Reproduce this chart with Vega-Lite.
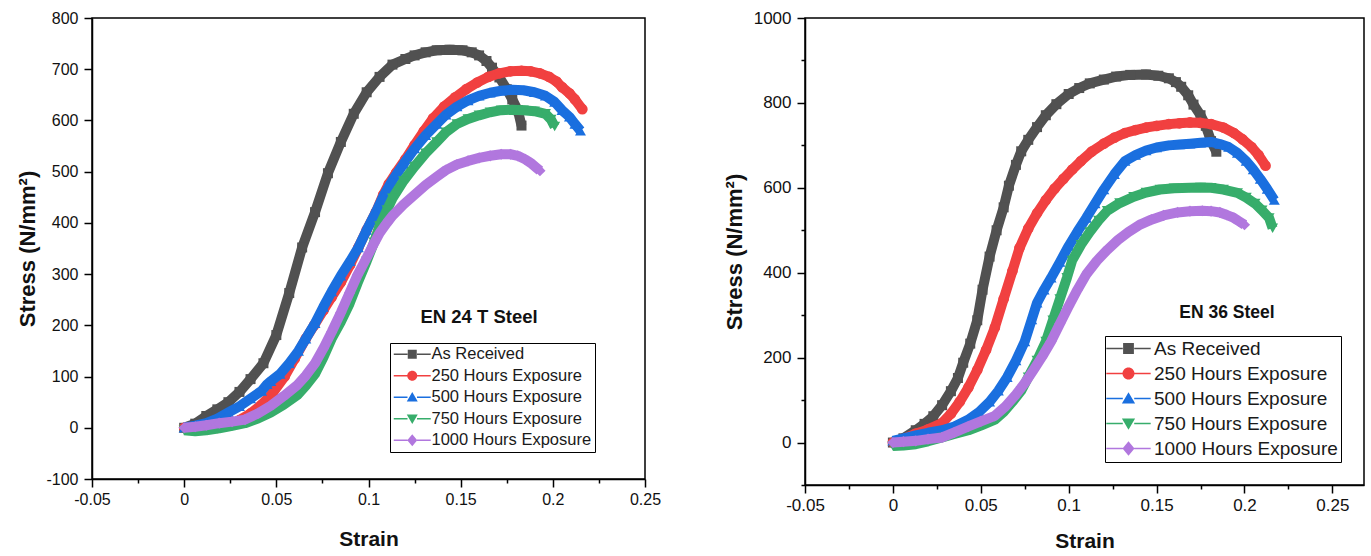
{
  "$schema": "https://vega.github.io/schema/vega-lite/v6.json",
  "padding": {"left": 16, "top": 8, "right": 5, "bottom": 0},
  "background": "white",
  "config": {
    "font": "Liberation Sans",
    "view": {"stroke": "black", "strokeWidth": 1.5},
    "axis": {"domainColor": "black", "domainWidth": 1.5, "tickColor": "black", "tickWidth": 1.5, "labelColor": "#111", "titleColor": "#111", "labelFont": "Liberation Sans", "titleFont": "Liberation Sans", "grid": false, "labelFontSize": 16, "titleFontSize": 21, "titleFontWeight": "bold", "labelOverlap": false, "labelFlush": false, "labelBound": false}
  },
  "datasets": {
    "en24": [
      {"series":"As Received","strain":0,"stress":0},{"series":"As Received","strain":0.006,"stress":8},{"series":"As Received","strain":0.012,"stress":23},{"series":"As Received","strain":0.018,"stress":36},{"series":"As Received","strain":0.024,"stress":50},{"series":"As Received","strain":0.03,"stress":70},{"series":"As Received","strain":0.036,"stress":95},{"series":"As Received","strain":0.043,"stress":126},{"series":"As Received","strain":0.05,"stress":181},{"series":"As Received","strain":0.057,"stress":263},{"series":"As Received","strain":0.064,"stress":352},{"series":"As Received","strain":0.071,"stress":421},{"series":"As Received","strain":0.078,"stress":497},{"series":"As Received","strain":0.085,"stress":558},{"series":"As Received","strain":0.092,"stress":613},{"series":"As Received","strain":0.099,"stress":655},{"series":"As Received","strain":0.106,"stress":685},{"series":"As Received","strain":0.113,"stress":709},{"series":"As Received","strain":0.12,"stress":720},{"series":"As Received","strain":0.125,"stress":727},{"series":"As Received","strain":0.131,"stress":733},{"series":"As Received","strain":0.137,"stress":737},{"series":"As Received","strain":0.144,"stress":738},{"series":"As Received","strain":0.151,"stress":737},{"series":"As Received","strain":0.156,"stress":733},{"series":"As Received","strain":0.16,"stress":727},{"series":"As Received","strain":0.164,"stress":716},{"series":"As Received","strain":0.167,"stress":703},{"series":"As Received","strain":0.171,"stress":684},{"series":"As Received","strain":0.175,"stress":661},{"series":"As Received","strain":0.178,"stress":641},{"series":"As Received","strain":0.181,"stress":620},{"series":"As Received","strain":0.183,"stress":590},
      {"series":"250 Hours Exposure","strain":0,"stress":0},{"series":"250 Hours Exposure","strain":0.006,"stress":-3},{"series":"250 Hours Exposure","strain":0.012,"stress":-3},{"series":"250 Hours Exposure","strain":0.018,"stress":0},{"series":"250 Hours Exposure","strain":0.025,"stress":5},{"series":"250 Hours Exposure","strain":0.03,"stress":15},{"series":"250 Hours Exposure","strain":0.036,"stress":28},{"series":"250 Hours Exposure","strain":0.042,"stress":45},{"series":"250 Hours Exposure","strain":0.048,"stress":68},{"series":"250 Hours Exposure","strain":0.0545,"stress":100},{"series":"250 Hours Exposure","strain":0.06,"stress":135},{"series":"250 Hours Exposure","strain":0.066,"stress":174},{"series":"250 Hours Exposure","strain":0.0705,"stress":200},{"series":"250 Hours Exposure","strain":0.0755,"stress":229},{"series":"250 Hours Exposure","strain":0.08,"stress":255},{"series":"250 Hours Exposure","strain":0.085,"stress":284},{"series":"250 Hours Exposure","strain":0.09,"stress":318},{"series":"250 Hours Exposure","strain":0.0945,"stress":352},{"series":"250 Hours Exposure","strain":0.099,"stress":386},{"series":"250 Hours Exposure","strain":0.104,"stress":421},{"series":"250 Hours Exposure","strain":0.108,"stress":455},{"series":"250 Hours Exposure","strain":0.111,"stress":476},{"series":"250 Hours Exposure","strain":0.115,"stress":498},{"series":"250 Hours Exposure","strain":0.12,"stress":524},{"series":"250 Hours Exposure","strain":0.125,"stress":552},{"series":"250 Hours Exposure","strain":0.13,"stress":579},{"series":"250 Hours Exposure","strain":0.135,"stress":604},{"series":"250 Hours Exposure","strain":0.141,"stress":627},{"series":"250 Hours Exposure","strain":0.147,"stress":645},{"series":"250 Hours Exposure","strain":0.153,"stress":661},{"series":"250 Hours Exposure","strain":0.159,"stress":674},{"series":"250 Hours Exposure","strain":0.165,"stress":685},{"series":"250 Hours Exposure","strain":0.171,"stress":692},{"series":"250 Hours Exposure","strain":0.177,"stress":696},{"series":"250 Hours Exposure","strain":0.183,"stress":697},{"series":"250 Hours Exposure","strain":0.188,"stress":696},{"series":"250 Hours Exposure","strain":0.193,"stress":692},{"series":"250 Hours Exposure","strain":0.198,"stress":685},{"series":"250 Hours Exposure","strain":0.202,"stress":676},{"series":"250 Hours Exposure","strain":0.205,"stress":665},{"series":"250 Hours Exposure","strain":0.209,"stress":653},{"series":"250 Hours Exposure","strain":0.212,"stress":641},{"series":"250 Hours Exposure","strain":0.216,"stress":622},
      {"series":"500 Hours Exposure","strain":0,"stress":0},{"series":"500 Hours Exposure","strain":0.006,"stress":4},{"series":"500 Hours Exposure","strain":0.012,"stress":9},{"series":"500 Hours Exposure","strain":0.018,"stress":18},{"series":"500 Hours Exposure","strain":0.024,"stress":30},{"series":"500 Hours Exposure","strain":0.03,"stress":42},{"series":"500 Hours Exposure","strain":0.036,"stress":57},{"series":"500 Hours Exposure","strain":0.042,"stress":72},{"series":"500 Hours Exposure","strain":0.045,"stress":85},{"series":"500 Hours Exposure","strain":0.047,"stress":91},{"series":"500 Hours Exposure","strain":0.052,"stress":105},{"series":"500 Hours Exposure","strain":0.057,"stress":126},{"series":"500 Hours Exposure","strain":0.062,"stress":150},{"series":"500 Hours Exposure","strain":0.066,"stress":174},{"series":"500 Hours Exposure","strain":0.071,"stress":204},{"series":"500 Hours Exposure","strain":0.0755,"stress":236},{"series":"500 Hours Exposure","strain":0.08,"stress":266},{"series":"500 Hours Exposure","strain":0.085,"stress":297},{"series":"500 Hours Exposure","strain":0.09,"stress":325},{"series":"500 Hours Exposure","strain":0.0945,"stress":352},{"series":"500 Hours Exposure","strain":0.099,"stress":386},{"series":"500 Hours Exposure","strain":0.104,"stress":421},{"series":"500 Hours Exposure","strain":0.108,"stress":452},{"series":"500 Hours Exposure","strain":0.113,"stress":483},{"series":"500 Hours Exposure","strain":0.119,"stress":515},{"series":"500 Hours Exposure","strain":0.125,"stress":545},{"series":"500 Hours Exposure","strain":0.131,"stress":571},{"series":"500 Hours Exposure","strain":0.137,"stress":593},{"series":"500 Hours Exposure","strain":0.142,"stress":611},{"series":"500 Hours Exposure","strain":0.148,"stress":627},{"series":"500 Hours Exposure","strain":0.154,"stress":639},{"series":"500 Hours Exposure","strain":0.16,"stress":648},{"series":"500 Hours Exposure","strain":0.166,"stress":654},{"series":"500 Hours Exposure","strain":0.172,"stress":658},{"series":"500 Hours Exposure","strain":0.178,"stress":660},{"series":"500 Hours Exposure","strain":0.184,"stress":659},{"series":"500 Hours Exposure","strain":0.19,"stress":655},{"series":"500 Hours Exposure","strain":0.196,"stress":648},{"series":"500 Hours Exposure","strain":0.201,"stress":636},{"series":"500 Hours Exposure","strain":0.205,"stress":620},{"series":"500 Hours Exposure","strain":0.209,"stress":607},{"series":"500 Hours Exposure","strain":0.212,"stress":593},{"series":"500 Hours Exposure","strain":0.215,"stress":580},
      {"series":"750 Hours Exposure","strain":0,"stress":-5},{"series":"750 Hours Exposure","strain":0.006,"stress":-7},{"series":"750 Hours Exposure","strain":0.012,"stress":-5},{"series":"750 Hours Exposure","strain":0.019,"stress":-1},{"series":"750 Hours Exposure","strain":0.026,"stress":4},{"series":"750 Hours Exposure","strain":0.033,"stress":9},{"series":"750 Hours Exposure","strain":0.04,"stress":18},{"series":"750 Hours Exposure","strain":0.047,"stress":30},{"series":"750 Hours Exposure","strain":0.054,"stress":45},{"series":"750 Hours Exposure","strain":0.0615,"stress":64},{"series":"750 Hours Exposure","strain":0.066,"stress":82},{"series":"750 Hours Exposure","strain":0.071,"stress":105},{"series":"750 Hours Exposure","strain":0.0755,"stress":137},{"series":"750 Hours Exposure","strain":0.08,"stress":174},{"series":"750 Hours Exposure","strain":0.085,"stress":207},{"series":"750 Hours Exposure","strain":0.0897,"stress":242},{"series":"750 Hours Exposure","strain":0.094,"stress":282},{"series":"750 Hours Exposure","strain":0.099,"stress":325},{"series":"750 Hours Exposure","strain":0.103,"stress":362},{"series":"750 Hours Exposure","strain":0.106,"stress":394},{"series":"750 Hours Exposure","strain":0.11,"stress":425},{"series":"750 Hours Exposure","strain":0.113,"stress":448},{"series":"750 Hours Exposure","strain":0.119,"stress":482},{"series":"750 Hours Exposure","strain":0.125,"stress":510},{"series":"750 Hours Exposure","strain":0.131,"stress":536},{"series":"750 Hours Exposure","strain":0.137,"stress":558},{"series":"750 Hours Exposure","strain":0.142,"stress":577},{"series":"750 Hours Exposure","strain":0.148,"stress":593},{"series":"750 Hours Exposure","strain":0.154,"stress":603},{"series":"750 Hours Exposure","strain":0.16,"stress":610},{"series":"750 Hours Exposure","strain":0.166,"stress":616},{"series":"750 Hours Exposure","strain":0.172,"stress":620},{"series":"750 Hours Exposure","strain":0.178,"stress":621},{"series":"750 Hours Exposure","strain":0.184,"stress":620},{"series":"750 Hours Exposure","strain":0.19,"stress":618},{"series":"750 Hours Exposure","strain":0.196,"stress":613},{"series":"750 Hours Exposure","strain":0.199,"stress":602},{"series":"750 Hours Exposure","strain":0.201,"stress":588},
      {"series":"1000 Hours Exposure","strain":0,"stress":0},{"series":"1000 Hours Exposure","strain":0.006,"stress":2},{"series":"1000 Hours Exposure","strain":0.012,"stress":5},{"series":"1000 Hours Exposure","strain":0.019,"stress":9},{"series":"1000 Hours Exposure","strain":0.026,"stress":12},{"series":"1000 Hours Exposure","strain":0.033,"stress":16},{"series":"1000 Hours Exposure","strain":0.04,"stress":28},{"series":"1000 Hours Exposure","strain":0.047,"stress":43},{"series":"1000 Hours Exposure","strain":0.054,"stress":62},{"series":"1000 Hours Exposure","strain":0.0615,"stress":84},{"series":"1000 Hours Exposure","strain":0.066,"stress":102},{"series":"1000 Hours Exposure","strain":0.071,"stress":126},{"series":"1000 Hours Exposure","strain":0.0755,"stress":155},{"series":"1000 Hours Exposure","strain":0.08,"stress":187},{"series":"1000 Hours Exposure","strain":0.085,"stress":225},{"series":"1000 Hours Exposure","strain":0.0897,"stress":263},{"series":"1000 Hours Exposure","strain":0.094,"stress":298},{"series":"1000 Hours Exposure","strain":0.099,"stress":332},{"series":"1000 Hours Exposure","strain":0.103,"stress":360},{"series":"1000 Hours Exposure","strain":0.106,"stress":380},{"series":"1000 Hours Exposure","strain":0.11,"stress":400},{"series":"1000 Hours Exposure","strain":0.113,"stress":414},{"series":"1000 Hours Exposure","strain":0.119,"stress":436},{"series":"1000 Hours Exposure","strain":0.125,"stress":455},{"series":"1000 Hours Exposure","strain":0.131,"stress":474},{"series":"1000 Hours Exposure","strain":0.137,"stress":490},{"series":"1000 Hours Exposure","strain":0.142,"stress":503},{"series":"1000 Hours Exposure","strain":0.148,"stress":514},{"series":"1000 Hours Exposure","strain":0.154,"stress":521},{"series":"1000 Hours Exposure","strain":0.16,"stress":527},{"series":"1000 Hours Exposure","strain":0.166,"stress":531},{"series":"1000 Hours Exposure","strain":0.172,"stress":534},{"series":"1000 Hours Exposure","strain":0.177,"stress":534},{"series":"1000 Hours Exposure","strain":0.181,"stress":531},{"series":"1000 Hours Exposure","strain":0.185,"stress":524},{"series":"1000 Hours Exposure","strain":0.188,"stress":517},{"series":"1000 Hours Exposure","strain":0.191,"stress":508},{"series":"1000 Hours Exposure","strain":0.193,"stress":502}
    ],
    "en36": [
      {"series":"As Received","strain":0,"stress":0},{"series":"As Received","strain":0.006,"stress":10},{"series":"As Received","strain":0.013,"stress":29},{"series":"As Received","strain":0.018,"stress":44},{"series":"As Received","strain":0.023,"stress":62},{"series":"As Received","strain":0.028,"stress":88},{"series":"As Received","strain":0.033,"stress":121},{"series":"As Received","strain":0.037,"stress":152},{"series":"As Received","strain":0.04,"stress":188},{"series":"As Received","strain":0.044,"stress":233},{"series":"As Received","strain":0.048,"stress":288},{"series":"As Received","strain":0.051,"stress":360},{"series":"As Received","strain":0.055,"stress":438},{"series":"As Received","strain":0.059,"stress":500},{"series":"As Received","strain":0.063,"stress":554},{"series":"As Received","strain":0.066,"stress":605},{"series":"As Received","strain":0.07,"stress":654},{"series":"As Received","strain":0.073,"stress":686},{"series":"As Received","strain":0.077,"stress":713},{"series":"As Received","strain":0.082,"stress":743},{"series":"As Received","strain":0.087,"stress":771},{"series":"As Received","strain":0.093,"stress":797},{"series":"As Received","strain":0.1,"stress":821},{"series":"As Received","strain":0.106,"stress":835},{"series":"As Received","strain":0.112,"stress":846},{"series":"As Received","strain":0.12,"stress":855},{"series":"As Received","strain":0.127,"stress":862},{"series":"As Received","strain":0.135,"stress":866},{"series":"As Received","strain":0.144,"stress":867},{"series":"As Received","strain":0.151,"stress":864},{"series":"As Received","strain":0.157,"stress":858},{"series":"As Received","strain":0.161,"stress":849},{"series":"As Received","strain":0.164,"stress":838},{"series":"As Received","strain":0.168,"stress":818},{"series":"As Received","strain":0.171,"stress":796},{"series":"As Received","strain":0.175,"stress":771},{"series":"As Received","strain":0.178,"stress":746},{"series":"As Received","strain":0.181,"stress":710},{"series":"As Received","strain":0.184,"stress":685},
      {"series":"250 Hours Exposure","strain":0,"stress":0},{"series":"250 Hours Exposure","strain":0.006,"stress":8},{"series":"250 Hours Exposure","strain":0.013,"stress":21},{"series":"250 Hours Exposure","strain":0.02,"stress":31},{"series":"250 Hours Exposure","strain":0.028,"stress":46},{"series":"250 Hours Exposure","strain":0.033,"stress":68},{"series":"250 Hours Exposure","strain":0.038,"stress":96},{"series":"250 Hours Exposure","strain":0.043,"stress":130},{"series":"250 Hours Exposure","strain":0.048,"stress":171},{"series":"250 Hours Exposure","strain":0.053,"stress":218},{"series":"250 Hours Exposure","strain":0.058,"stress":271},{"series":"250 Hours Exposure","strain":0.063,"stress":338},{"series":"250 Hours Exposure","strain":0.068,"stress":404},{"series":"250 Hours Exposure","strain":0.072,"stress":458},{"series":"250 Hours Exposure","strain":0.077,"stress":504},{"series":"250 Hours Exposure","strain":0.082,"stress":540},{"series":"250 Hours Exposure","strain":0.087,"stress":571},{"series":"250 Hours Exposure","strain":0.092,"stress":598},{"series":"250 Hours Exposure","strain":0.097,"stress":621},{"series":"250 Hours Exposure","strain":0.102,"stress":643},{"series":"250 Hours Exposure","strain":0.107,"stress":663},{"series":"250 Hours Exposure","strain":0.113,"stress":685},{"series":"250 Hours Exposure","strain":0.12,"stress":704},{"series":"250 Hours Exposure","strain":0.126,"stress":718},{"series":"250 Hours Exposure","strain":0.132,"stress":729},{"series":"250 Hours Exposure","strain":0.138,"stress":736},{"series":"250 Hours Exposure","strain":0.144,"stress":742},{"series":"250 Hours Exposure","strain":0.15,"stress":746},{"series":"250 Hours Exposure","strain":0.157,"stress":750},{"series":"250 Hours Exposure","strain":0.163,"stress":752},{"series":"250 Hours Exposure","strain":0.169,"stress":754},{"series":"250 Hours Exposure","strain":0.175,"stress":753},{"series":"250 Hours Exposure","strain":0.181,"stress":750},{"series":"250 Hours Exposure","strain":0.188,"stress":742},{"series":"250 Hours Exposure","strain":0.194,"stress":729},{"series":"250 Hours Exposure","strain":0.199,"stress":714},{"series":"250 Hours Exposure","strain":0.204,"stress":696},{"series":"250 Hours Exposure","strain":0.208,"stress":677},{"series":"250 Hours Exposure","strain":0.212,"stress":652},
      {"series":"500 Hours Exposure","strain":0,"stress":4},{"series":"500 Hours Exposure","strain":0.006,"stress":10},{"series":"500 Hours Exposure","strain":0.013,"stress":17},{"series":"500 Hours Exposure","strain":0.02,"stress":23},{"series":"500 Hours Exposure","strain":0.028,"stress":29},{"series":"500 Hours Exposure","strain":0.035,"stress":38},{"series":"500 Hours Exposure","strain":0.043,"stress":54},{"series":"500 Hours Exposure","strain":0.049,"stress":72},{"series":"500 Hours Exposure","strain":0.055,"stress":96},{"series":"500 Hours Exposure","strain":0.06,"stress":122},{"series":"500 Hours Exposure","strain":0.065,"stress":154},{"series":"500 Hours Exposure","strain":0.07,"stress":193},{"series":"500 Hours Exposure","strain":0.075,"stress":238},{"series":"500 Hours Exposure","strain":0.079,"stress":290},{"series":"500 Hours Exposure","strain":0.082,"stress":329},{"series":"500 Hours Exposure","strain":0.086,"stress":360},{"series":"500 Hours Exposure","strain":0.09,"stress":388},{"series":"500 Hours Exposure","strain":0.095,"stress":425},{"series":"500 Hours Exposure","strain":0.1,"stress":463},{"series":"500 Hours Exposure","strain":0.105,"stress":497},{"series":"500 Hours Exposure","strain":0.11,"stress":529},{"series":"500 Hours Exposure","strain":0.115,"stress":563},{"series":"500 Hours Exposure","strain":0.12,"stress":596},{"series":"500 Hours Exposure","strain":0.126,"stress":632},{"series":"500 Hours Exposure","strain":0.132,"stress":663},{"series":"500 Hours Exposure","strain":0.138,"stress":677},{"series":"500 Hours Exposure","strain":0.144,"stress":688},{"series":"500 Hours Exposure","strain":0.15,"stress":695},{"series":"500 Hours Exposure","strain":0.157,"stress":700},{"series":"500 Hours Exposure","strain":0.163,"stress":702},{"series":"500 Hours Exposure","strain":0.169,"stress":704},{"series":"500 Hours Exposure","strain":0.175,"stress":706},{"series":"500 Hours Exposure","strain":0.181,"stress":708},{"series":"500 Hours Exposure","strain":0.186,"stress":703},{"series":"500 Hours Exposure","strain":0.191,"stress":696},{"series":"500 Hours Exposure","strain":0.196,"stress":682},{"series":"500 Hours Exposure","strain":0.201,"stress":663},{"series":"500 Hours Exposure","strain":0.205,"stress":643},{"series":"500 Hours Exposure","strain":0.209,"stress":621},{"series":"500 Hours Exposure","strain":0.213,"stress":597},{"series":"500 Hours Exposure","strain":0.217,"stress":571},
      {"series":"750 Hours Exposure","strain":0,"stress":-8},{"series":"750 Hours Exposure","strain":0.006,"stress":-7},{"series":"750 Hours Exposure","strain":0.013,"stress":-4},{"series":"750 Hours Exposure","strain":0.02,"stress":3},{"series":"750 Hours Exposure","strain":0.028,"stress":12},{"series":"750 Hours Exposure","strain":0.035,"stress":20},{"series":"750 Hours Exposure","strain":0.043,"stress":29},{"series":"750 Hours Exposure","strain":0.05,"stress":40},{"series":"750 Hours Exposure","strain":0.058,"stress":54},{"series":"750 Hours Exposure","strain":0.063,"stress":72},{"series":"750 Hours Exposure","strain":0.068,"stress":96},{"series":"750 Hours Exposure","strain":0.073,"stress":122},{"series":"750 Hours Exposure","strain":0.077,"stress":154},{"series":"750 Hours Exposure","strain":0.082,"stress":193},{"series":"750 Hours Exposure","strain":0.087,"stress":238},{"series":"750 Hours Exposure","strain":0.091,"stress":288},{"series":"750 Hours Exposure","strain":0.095,"stress":338},{"series":"750 Hours Exposure","strain":0.099,"stress":388},{"series":"750 Hours Exposure","strain":0.102,"stress":429},{"series":"750 Hours Exposure","strain":0.107,"stress":466},{"series":"750 Hours Exposure","strain":0.112,"stress":496},{"series":"750 Hours Exposure","strain":0.117,"stress":523},{"series":"750 Hours Exposure","strain":0.122,"stress":546},{"series":"750 Hours Exposure","strain":0.129,"stress":564},{"series":"750 Hours Exposure","strain":0.137,"stress":579},{"series":"750 Hours Exposure","strain":0.144,"stress":589},{"series":"750 Hours Exposure","strain":0.152,"stress":596},{"series":"750 Hours Exposure","strain":0.16,"stress":599},{"series":"750 Hours Exposure","strain":0.169,"stress":600},{"series":"750 Hours Exposure","strain":0.175,"stress":601},{"series":"750 Hours Exposure","strain":0.181,"stress":600},{"series":"750 Hours Exposure","strain":0.188,"stress":596},{"series":"750 Hours Exposure","strain":0.196,"stress":588},{"series":"750 Hours Exposure","strain":0.201,"stress":577},{"series":"750 Hours Exposure","strain":0.206,"stress":563},{"series":"750 Hours Exposure","strain":0.21,"stress":547},{"series":"750 Hours Exposure","strain":0.214,"stress":529},{"series":"750 Hours Exposure","strain":0.216,"stress":505},
      {"series":"1000 Hours Exposure","strain":0,"stress":0},{"series":"1000 Hours Exposure","strain":0.006,"stress":2},{"series":"1000 Hours Exposure","strain":0.013,"stress":4},{"series":"1000 Hours Exposure","strain":0.02,"stress":8},{"series":"1000 Hours Exposure","strain":0.028,"stress":12},{"series":"1000 Hours Exposure","strain":0.035,"stress":24},{"series":"1000 Hours Exposure","strain":0.043,"stress":38},{"series":"1000 Hours Exposure","strain":0.05,"stress":50},{"series":"1000 Hours Exposure","strain":0.058,"stress":63},{"series":"1000 Hours Exposure","strain":0.064,"stress":85},{"series":"1000 Hours Exposure","strain":0.07,"stress":113},{"series":"1000 Hours Exposure","strain":0.075,"stress":140},{"series":"1000 Hours Exposure","strain":0.08,"stress":171},{"series":"1000 Hours Exposure","strain":0.085,"stress":203},{"series":"1000 Hours Exposure","strain":0.09,"stress":238},{"series":"1000 Hours Exposure","strain":0.095,"stress":280},{"series":"1000 Hours Exposure","strain":0.1,"stress":321},{"series":"1000 Hours Exposure","strain":0.105,"stress":360},{"series":"1000 Hours Exposure","strain":0.11,"stress":396},{"series":"1000 Hours Exposure","strain":0.116,"stress":428},{"series":"1000 Hours Exposure","strain":0.122,"stress":454},{"series":"1000 Hours Exposure","strain":0.128,"stress":477},{"series":"1000 Hours Exposure","strain":0.134,"stress":496},{"series":"1000 Hours Exposure","strain":0.14,"stress":512},{"series":"1000 Hours Exposure","strain":0.147,"stress":525},{"series":"1000 Hours Exposure","strain":0.154,"stress":535},{"series":"1000 Hours Exposure","strain":0.162,"stress":542},{"series":"1000 Hours Exposure","strain":0.169,"stress":545},{"series":"1000 Hours Exposure","strain":0.176,"stress":546},{"series":"1000 Hours Exposure","strain":0.181,"stress":545},{"series":"1000 Hours Exposure","strain":0.186,"stress":542},{"series":"1000 Hours Exposure","strain":0.19,"stress":536},{"series":"1000 Hours Exposure","strain":0.194,"stress":529},{"series":"1000 Hours Exposure","strain":0.197,"stress":521},{"series":"1000 Hours Exposure","strain":0.2,"stress":513}
    ]
  },
  "spacing": 60,
  "resolve": {"scale": {"color": "independent", "x": "independent", "y": "independent"}, "legend": {"color": "independent"}},
  "hconcat": [
    {
      "width": 553, "height": 461,
      "layer": [
        {
          "data": {"name": "en24"},
          "encoding": {
            "x": {"field": "strain", "type": "quantitative", "scale": {"domain": [-0.05, 0.25], "nice": false, "zero": false},
                  "axis": {"title": "Strain", "values": [-0.05,-0.025,0,0.025,0.05,0.075,0.1,0.125,0.15,0.175,0.2,0.225,0.25],
                           "labelExpr": "round(datum.value*1000) % 50 === 0 ? toString(datum.value) : ''",
                           "tickSize": {"condition": {"test": "round(datum.value*1000) % 50 !== 0", "value": 4}, "value": 8},
                           "labelPadding": 4, "titlePadding": 21}},
            "y": {"field": "stress", "type": "quantitative", "scale": {"domain": [-100, 800], "nice": false, "zero": false},
                  "axis": {"title": "Stress (N/mm²)", "titleFontSize": 22, "values": [-100,-50,0,50,100,150,200,250,300,350,400,450,500,550,600,650,700,750,800],
                           "labelExpr": "datum.value % 100 === 0 ? toString(datum.value) : ''",
                           "tickSize": {"condition": {"test": "datum.value % 100 !== 0", "value": 4}, "value": 8},
                           "labelPadding": 6, "titlePadding": 6}},
            "color": {"field": "series", "type": "nominal",
                      "scale": {"domain": ["As Received","250 Hours Exposure","500 Hours Exposure","750 Hours Exposure","1000 Hours Exposure"], "range": ["#515151","#F14040","#1A6FDF","#37AD6B","#B177DE"]},
                      "legend": {"title": null, "orient": "none", "legendX": 298, "legendY": 325, "strokeColor": "black", "padding": 3,
                                 "labelFontSize": 16.5, "labelFont": "Liberation Sans", "labelColor": "#1a1a1a", "rowPadding": 4.5, "labelLimit": 400,
                                 "symbolOffset": 11, "labelOffset": 11, "symbolSize": 100,
                                 "encode": {"symbols": {"update": {
                                   "shape": {"signal": "datum.value==='As Received' ? 'M-3.7,-0.13H-0.95V0.13H-3.7ZM0.95,-0.13H3.7V0.13H0.95ZM-0.9,-0.9H0.9V0.9H-0.9Z' : datum.value==='250 Hours Exposure' ? 'M-3.7,-0.13H-0.95V0.13H-3.7ZM0.95,-0.13H3.7V0.13H0.95ZM-1,0A1,1,0,1,1,1,0A1,1,0,1,1,-1,0Z' : datum.value==='500 Hours Exposure' ? 'M-3.7,-0.13H-0.95V0.13H-3.7ZM0.95,-0.13H3.7V0.13H0.95ZM0,-1.05L1.1,0.85H-1.1Z' : datum.value==='750 Hours Exposure' ? 'M-3.7,-0.13H-0.95V0.13H-3.7ZM0.95,-0.13H3.7V0.13H0.95ZM0,1.05L1.1,-0.85H-1.1Z' : 'M-3.7,-0.13H-0.95V0.13H-3.7ZM0.95,-0.13H3.7V0.13H0.95ZM0,-1.2L1,0L0,1.2L-1,0Z'"},
                                   "fill": {"signal": "datum.value==='As Received' ? '#515151' : datum.value==='250 Hours Exposure' ? '#F14040' : datum.value==='500 Hours Exposure' ? '#1A6FDF' : datum.value==='750 Hours Exposure' ? '#37AD6B' : '#B177DE'"},
                                   "stroke": {"value": "transparent"}, "strokeWidth": {"value": 0}, "size": {"value": 100}, "opacity": {"value": 1}}}}}}
          },
          "layer": [
            {"transform": [{"filter": "datum.series==='As Received'"}], "layer": [
              {"mark": {"type": "line", "strokeWidth": 10, "strokeJoin": "round"}},
              {"mark": {"type": "point", "shape": "square", "filled": true, "size": 100, "opacity": 1}}]},
            {"transform": [{"filter": "datum.series==='250 Hours Exposure'"}], "layer": [
              {"mark": {"type": "line", "strokeWidth": 10, "strokeJoin": "round"}},
              {"mark": {"type": "point", "shape": "circle", "filled": true, "size": 115, "opacity": 1}}]},
            {"transform": [{"filter": "datum.series==='500 Hours Exposure'"}], "layer": [
              {"mark": {"type": "line", "strokeWidth": 10, "strokeJoin": "round"}},
              {"mark": {"type": "point", "shape": "triangle-up", "filled": true, "size": 120, "opacity": 1}}]},
            {"transform": [{"filter": "datum.series==='750 Hours Exposure'"}], "layer": [
              {"mark": {"type": "line", "strokeWidth": 10, "strokeJoin": "round"}},
              {"mark": {"type": "point", "shape": "triangle-down", "filled": true, "size": 120, "opacity": 1}}]},
            {"transform": [{"filter": "datum.series==='1000 Hours Exposure'"}], "layer": [
              {"mark": {"type": "line", "strokeWidth": 10, "strokeJoin": "round"}},
              {"mark": {"type": "point", "shape": "diamond", "filled": true, "size": 125, "opacity": 1}}]}
          ]
        },
        {"data": {"values": [{"label": "EN 24 T Steel"}]}, "mark": {"type": "text", "fontSize": 18.5, "fontWeight": "bold", "font": "Liberation Sans", "align": "center", "baseline": "middle", "color": "#111"},
         "encoding": {"x": {"datum": 0.16, "type": "quantitative"}, "y": {"datum": 217, "type": "quantitative"}, "text": {"field": "label", "type": "nominal"}}}
      ]
    },
    {
      "width": 559, "height": 467,
      "layer": [
        {
          "data": {"name": "en36"},
          "encoding": {
            "x": {"field": "strain", "type": "quantitative", "scale": {"domain": [-0.05, 0.268], "nice": false, "zero": false},
                  "axis": {"title": "Strain", "values": [-0.05,-0.025,0,0.025,0.05,0.075,0.1,0.125,0.15,0.175,0.2,0.225,0.25],
                           "labelExpr": "round(datum.value*1000) % 50 === 0 ? toString(datum.value) : ''",
                           "tickSize": {"condition": {"test": "round(datum.value*1000) % 50 !== 0", "value": 4}, "value": 8},
                           "labelFontSize": 17, "labelPadding": 4, "titlePadding": 17}},
            "y": {"field": "stress", "type": "quantitative", "scale": {"domain": [-100, 1000], "nice": false, "zero": false},
                  "axis": {"title": "Stress (N/mm²)", "titleFontSize": 22, "values": [-100,0,100,200,300,400,500,600,700,800,900,1000],
                           "labelExpr": "datum.value % 200 === 0 ? toString(datum.value) : ''",
                           "tickSize": {"condition": {"test": "datum.value % 200 !== 0", "value": 4}, "value": 8},
                           "labelFontSize": 17, "labelPadding": 6, "titlePadding": 7}},
            "color": {"field": "series", "type": "nominal",
                      "scale": {"domain": ["As Received","250 Hours Exposure","500 Hours Exposure","750 Hours Exposure","1000 Hours Exposure"], "range": ["#515151","#F14040","#1A6FDF","#37AD6B","#B177DE"]},
                      "legend": {"title": null, "orient": "none", "legendX": 300, "legendY": 318, "strokeColor": "black", "padding": 3,
                                 "labelFontSize": 19, "labelFont": "Liberation Sans", "labelColor": "#1a1a1a", "rowPadding": 5, "labelLimit": 400,
                                 "symbolOffset": 11, "labelOffset": 16, "symbolSize": 144,
                                 "encode": {"symbols": {"update": {
                                   "shape": {"signal": "datum.value==='As Received' ? 'M-3.7,-0.13H-0.95V0.13H-3.7ZM0.95,-0.13H3.7V0.13H0.95ZM-0.9,-0.9H0.9V0.9H-0.9Z' : datum.value==='250 Hours Exposure' ? 'M-3.7,-0.13H-0.95V0.13H-3.7ZM0.95,-0.13H3.7V0.13H0.95ZM-1,0A1,1,0,1,1,1,0A1,1,0,1,1,-1,0Z' : datum.value==='500 Hours Exposure' ? 'M-3.7,-0.13H-0.95V0.13H-3.7ZM0.95,-0.13H3.7V0.13H0.95ZM0,-1.05L1.1,0.85H-1.1Z' : datum.value==='750 Hours Exposure' ? 'M-3.7,-0.13H-0.95V0.13H-3.7ZM0.95,-0.13H3.7V0.13H0.95ZM0,1.05L1.1,-0.85H-1.1Z' : 'M-3.7,-0.13H-0.95V0.13H-3.7ZM0.95,-0.13H3.7V0.13H0.95ZM0,-1.2L1,0L0,1.2L-1,0Z'"},
                                   "fill": {"signal": "datum.value==='As Received' ? '#515151' : datum.value==='250 Hours Exposure' ? '#F14040' : datum.value==='500 Hours Exposure' ? '#1A6FDF' : datum.value==='750 Hours Exposure' ? '#37AD6B' : '#B177DE'"},
                                   "stroke": {"value": "transparent"}, "strokeWidth": {"value": 0}, "size": {"value": 144}, "opacity": {"value": 1}}}}}}
          },
          "layer": [
            {"transform": [{"filter": "datum.series==='As Received'"}], "layer": [
              {"mark": {"type": "line", "strokeWidth": 10, "strokeJoin": "round"}},
              {"mark": {"type": "point", "shape": "square", "filled": true, "size": 100, "opacity": 1}}]},
            {"transform": [{"filter": "datum.series==='250 Hours Exposure'"}], "layer": [
              {"mark": {"type": "line", "strokeWidth": 10, "strokeJoin": "round"}},
              {"mark": {"type": "point", "shape": "circle", "filled": true, "size": 115, "opacity": 1}}]},
            {"transform": [{"filter": "datum.series==='500 Hours Exposure'"}], "layer": [
              {"mark": {"type": "line", "strokeWidth": 10, "strokeJoin": "round"}},
              {"mark": {"type": "point", "shape": "triangle-up", "filled": true, "size": 120, "opacity": 1}}]},
            {"transform": [{"filter": "datum.series==='750 Hours Exposure'"}], "layer": [
              {"mark": {"type": "line", "strokeWidth": 10, "strokeJoin": "round"}},
              {"mark": {"type": "point", "shape": "triangle-down", "filled": true, "size": 120, "opacity": 1}}]},
            {"transform": [{"filter": "datum.series==='1000 Hours Exposure'"}], "layer": [
              {"mark": {"type": "line", "strokeWidth": 10, "strokeJoin": "round"}},
              {"mark": {"type": "point", "shape": "diamond", "filled": true, "size": 125, "opacity": 1}}]}
          ]
        },
        {"data": {"values": [{"label": "EN 36 Steel"}]}, "mark": {"type": "text", "fontSize": 17.5, "fontWeight": "bold", "font": "Liberation Sans", "align": "center", "baseline": "middle", "color": "#111"},
         "encoding": {"x": {"datum": 0.19, "type": "quantitative"}, "y": {"datum": 305, "type": "quantitative"}, "text": {"field": "label", "type": "nominal"}}}
      ]
    }
  ]
}
